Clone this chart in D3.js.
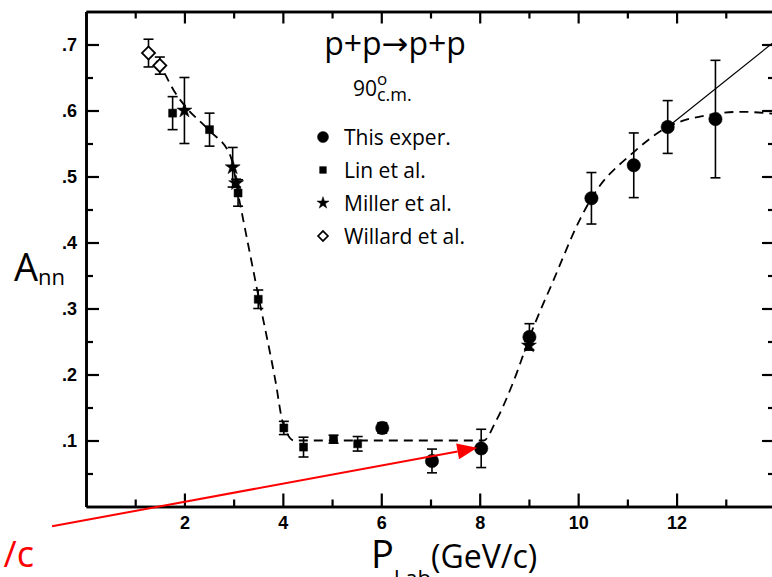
<!DOCTYPE html>
<html>
<head>
<meta charset="utf-8">
<script src="https://cdn.jsdelivr.net/npm/d3@7"></script>
<style>
  html, body { margin: 0; padding: 0; background: #fff; }
  svg { display: block; }
</style>
</head>
<body>
<svg id="chart" width="772" height="577"></svg>
<script>
// data
const thisX = [6.02, 7.03, 8.03, 9.01, 10.27, 11.13, 11.82, 12.79];
const thisY = [0.119, 0.069, 0.088, 0.257, 0.467, 0.517, 0.575, 0.587];
const thisErr = [0.008, 0.018, 0.029, 0.02, 0.039, 0.049, 0.04, 0.089];

const linX = [1.76, 2.51, 3.09, 3.5, 4.02, 4.42, 5.03, 5.52];
const linY = [0.596, 0.571, 0.475, 0.314, 0.119, 0.09, 0.102, 0.095];
const linErr = [0.025, 0.025, 0.02, 0.014, 0.01, 0.015, 0.006, 0.011];

const millerX = [2.0, 2.98, 3.05, 9.0];
const millerY = [0.6, 0.514, 0.49, 0.244];
const millerErr = [0.05, 0.03, 0.006, 0.006];

const willardX = [1.27, 1.5];
const willardY = [0.687, 0.668];
const willardErr = [0.021, 0.013];

// dashed guide curve
const fitX = [1.2, 1.5, 1.82, 2.02, 2.5, 2.94, 3.1, 3.5, 3.85, 4.0, 4.23, 5, 6, 7, 8.08, 8.32, 8.69, 9.03, 9.5, 10.05, 10.27, 11.13, 11.82, 12.63, 13.3, 14];
const fitY = [0.69, 0.668, 0.626, 0.606, 0.57, 0.53, 0.47, 0.32, 0.19, 0.127, 0.1, 0.1, 0.1, 0.1, 0.1, 0.128, 0.19, 0.26, 0.343, 0.437, 0.467, 0.537, 0.575, 0.593, 0.598, 0.595];
// solid extrapolation
const solidX = [11.82, 14];
const solidY = [0.575, 0.705];

const legendLabels = ["This exper.", "Lin et al.", "Miller et al.", "Willard et al."];
const xMajor = [2, 4, 6, 8, 10, 12];
const xMinor = [1, 3, 5, 7, 9, 11, 13];
const yMajor = [0.1, 0.2, 0.3, 0.4, 0.5, 0.6, 0.7];
const yMajorLabels = [".1", ".2", ".3", ".4", ".5", ".6", ".7"];
const yMinor = [0.05, 0.15, 0.25, 0.35, 0.45, 0.55, 0.65];

// red annotation arrow (data coords)
const arrowFrom = [-0.69, -0.030];
const arrowTo = [7.95, 0.089];

const svg = d3.select("#chart");
const x = d3.scaleLinear([0, 14], [86, 775]);
const y = d3.scaleLinear([0, 0.75], [506.5, 11.5]);

const tickFont = "'Liberation Sans', Arial, sans-serif";
const textFont = "'Open Sans', 'DejaVu Sans', sans-serif";

function styleAxis(g) {
  g.attr("font-family", tickFont).attr("font-size", 18).attr("font-weight", "bold");
  g.select(".domain").attr("stroke", "#000").attr("stroke-width", 2.6);
  g.selectAll(".tick line").attr("stroke", "#000").attr("stroke-width", 2.2);
  g.selectAll(".tick text").attr("fill", "#000");
}

// bottom axis
svg.append("g").attr("transform", `translate(0,${y(0)})`)
  .call(d3.axisBottom(x).tickValues(xMinor).tickSize(-7).tickSizeOuter(0).tickFormat(""))
  .call(styleAxis);
svg.append("g").attr("transform", `translate(0,${y(0)})`)
  .call(d3.axisBottom(x).tickValues(xMajor).tickSize(-13).tickSizeOuter(0).tickPadding(10).tickFormat(d3.format("d")))
  .call(styleAxis);
// top axis
svg.append("g").attr("transform", `translate(0,${y(0.75)})`)
  .call(d3.axisTop(x).tickValues(xMinor).tickSize(-7).tickSizeOuter(0).tickFormat(""))
  .call(styleAxis);
svg.append("g").attr("transform", `translate(0,${y(0.75)})`)
  .call(d3.axisTop(x).tickValues(xMajor).tickSize(-12).tickSizeOuter(0).tickFormat(""))
  .call(styleAxis);
// left axis
svg.append("g").attr("transform", `translate(${x(0)},0)`)
  .call(d3.axisLeft(y).tickValues(yMinor).tickSize(-7).tickSizeOuter(0).tickFormat(""))
  .call(styleAxis);
svg.append("g").attr("transform", `translate(${x(0)},0)`)
  .call(d3.axisLeft(y).tickValues(yMajor).tickSize(-13).tickSizeOuter(0).tickPadding(9)
    .tickFormat((d, i) => yMajorLabels[i]))
  .call(styleAxis);
// right axis
svg.append("g").attr("transform", `translate(${x(14)},0)`)
  .call(d3.axisRight(y).tickValues(yMinor).tickSize(-7).tickSizeOuter(0).tickFormat(""))
  .call(styleAxis);
svg.append("g").attr("transform", `translate(${x(14)},0)`)
  .call(d3.axisRight(y).tickValues(yMajor).tickSize(-13).tickSizeOuter(0).tickFormat(""))
  .call(styleAxis);

// curves
const line = d3.line().x(d => x(d[0])).y(d => y(d[1]));
svg.append("path")
  .attr("d", line.curve(d3.curveMonotoneX)(d3.zip(fitX, fitY)))
  .attr("fill", "none").attr("stroke", "#000").attr("stroke-width", 1.8)
  .attr("stroke-dasharray", "9,6");
svg.append("path")
  .attr("d", d3.line().x(d => x(d[0])).y(d => y(d[1]))(d3.zip(solidX, solidY)))
  .attr("fill", "none").attr("stroke", "#000").attr("stroke-width", 1.2);

// points with error bars
const series = [
  { xs: thisX, ys: thisY, es: thisErr, type: d3.symbolCircle, size: 140, fill: "#000", rot: 0 },
  { xs: linX, ys: linY, es: linErr, type: d3.symbolSquare, size: 64, fill: "#000", rot: 0 },
  { xs: millerX, ys: millerY, es: millerErr, type: d3.symbolStar, size: 70, fill: "#000", rot: 0 },
  { xs: willardX, ys: willardY, es: willardErr, type: d3.symbolSquare, size: 85, fill: "#fff", rot: 45 },
];

const plot = svg.append("g").attr("class", "points");
series.forEach(s => {
  const pts = d3.range(s.xs.length).map(i => ({ x: s.xs[i], y: s.ys[i], e: s.es[i] }));
  const g = plot.append("g");
  const eb = g.selectAll("g.err").data(pts).enter().append("g").attr("class", "err")
    .attr("stroke", "#000").attr("stroke-width", 1.6);
  eb.append("line")
    .attr("x1", d => x(d.x)).attr("x2", d => x(d.x))
    .attr("y1", d => y(d.y - d.e)).attr("y2", d => y(d.y + d.e));
  eb.append("line")
    .attr("x1", d => x(d.x) - 5).attr("x2", d => x(d.x) + 5)
    .attr("y1", d => y(d.y + d.e)).attr("y2", d => y(d.y + d.e));
  eb.append("line")
    .attr("x1", d => x(d.x) - 5).attr("x2", d => x(d.x) + 5)
    .attr("y1", d => y(d.y - d.e)).attr("y2", d => y(d.y - d.e));
  g.selectAll("path.mark").data(pts).enter().append("path").attr("class", "mark")
    .attr("d", d3.symbol(s.type, s.size))
    .attr("transform", d => `translate(${x(d.x)},${y(d.y)}) rotate(${s.rot})`)
    .attr("fill", s.fill).attr("stroke", "#000").attr("stroke-width", s.fill === "#fff" ? 1.8 : 0.5);
});

// title
svg.append("text").attr("x", 395).attr("y", 55).attr("text-anchor", "middle")
  .attr("font-family", textFont).attr("font-size", 32).text("p+p\u2192p+p");
svg.append("text").attr("x", 353).attr("y", 96)
  .attr("font-family", textFont).attr("font-size", 21).text("90");
svg.append("text").attr("x", 377).attr("y", 85)
  .attr("font-family", textFont).attr("font-size", 17).text("o");
svg.append("text").attr("x", 377).attr("y", 101)
  .attr("font-family", textFont).attr("font-size", 18).text("c.m.");

// legend
const legendTypes = [
  { type: d3.symbolCircle, size: 95, fill: "#000", rot: 0 },
  { type: d3.symbolSquare, size: 45, fill: "#000", rot: 0 },
  { type: d3.symbolStar, size: 45, fill: "#000", rot: 0 },
  { type: d3.symbolSquare, size: 50, fill: "#fff", rot: 45 },
];
const legend = svg.append("g").attr("transform", "translate(323,137)");
legendLabels.forEach((label, i) => {
  const t = legendTypes[i];
  const row = legend.append("g").attr("transform", `translate(0,${i * 33})`);
  row.append("path").attr("d", d3.symbol(t.type, t.size)).attr("transform", `rotate(${t.rot})`)
    .attr("fill", t.fill).attr("stroke", "#000").attr("stroke-width", t.fill === "#fff" ? 1.6 : 0.5);
  row.append("text").attr("x", 21).attr("y", 8)
    .attr("font-family", textFont).attr("font-size", 21).text(label);
});

// axis titles
const yLab = svg.append("text").attr("x", 14).attr("y", 281).attr("font-family", textFont);
yLab.append("tspan").attr("font-size", 38).text("A");
yLab.append("tspan").attr("font-size", 22).attr("dy", 4).text("nn");

const xLab = svg.append("text").attr("x", 371).attr("y", 568).attr("font-family", textFont);
xLab.append("tspan").attr("font-size", 38).text("P");
xLab.append("tspan").attr("font-size", 22).attr("dy", 18).text("Lab");
xLab.append("tspan").attr("font-size", 32).attr("dy", -18).text("(GeV/c)");

// red annotation
const ax0 = x(arrowFrom[0]), ay0 = y(arrowFrom[1]);
const ax1 = x(arrowTo[0]), ay1 = y(arrowTo[1]);
const ang = Math.atan2(ay1 - ay0, ax1 - ax0);
const headLen = 20, headW = 8;
const bx = ax1 - headLen * Math.cos(ang), by = ay1 - headLen * Math.sin(ang);
svg.append("line").attr("x1", ax0).attr("y1", ay0).attr("x2", bx).attr("y2", by)
  .attr("stroke", "#ff0000").attr("stroke-width", 2);
svg.append("path")
  .attr("d", `M${ax1},${ay1}L${bx - headW * Math.sin(ang)},${by + headW * Math.cos(ang)}L${bx + headW * Math.sin(ang)},${by - headW * Math.cos(ang)}Z`)
  .attr("fill", "#ff0000");
svg.append("text").attr("x", 34).attr("y", 567).attr("text-anchor", "end")
  .attr("font-family", textFont).attr("font-size", 36).attr("fill", "#ff0000").text("/c");
</script>
</body>
</html>
